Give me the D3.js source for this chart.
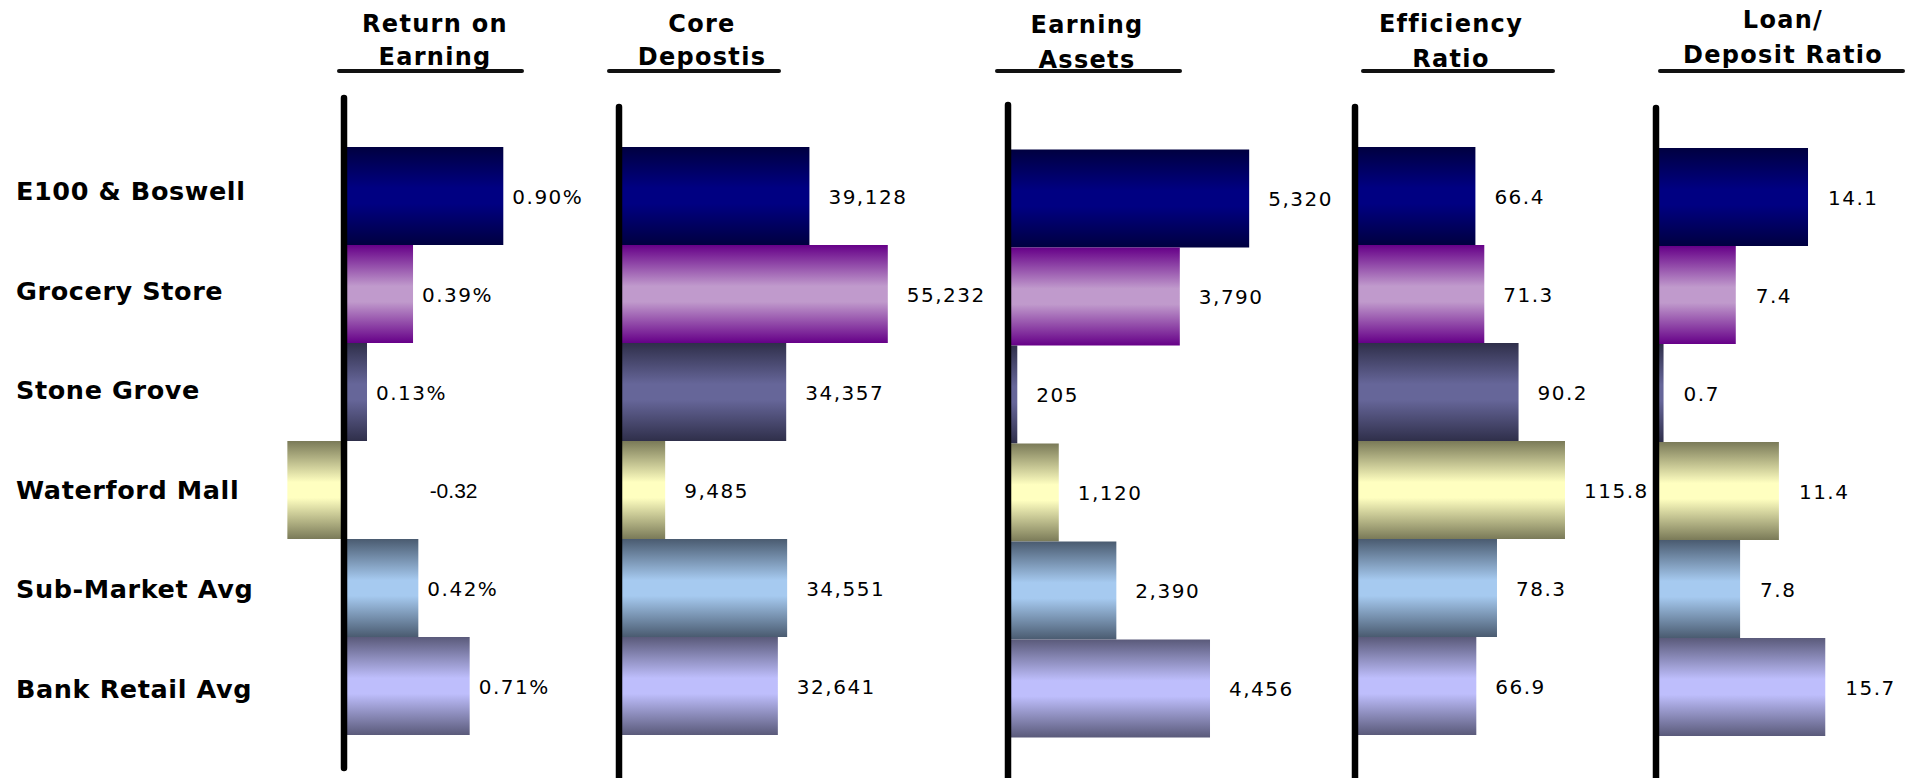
<!DOCTYPE html>
<html>
<head>
<meta charset="utf-8">
<script src="https://cdn.jsdelivr.net/npm/d3@7"></script>
<style>
  html, body { margin: 0; padding: 0; background: #fff; }
  svg { display: block; }
</style>
</head>
<body>
<div id="chart"></div>
<script>
// data
const categories = ["E100 & Boswell", "Grocery Store", "Stone Grove", "Waterford Mall", "Sub-Market Avg", "Bank Retail Avg"];
const returnOnEarning = [0.90, 0.39, 0.13, -0.32, 0.42, 0.71];
const coreDeposits = [39128, 55232, 34357, 9485, 34551, 32641];
const earningAssets = [5320, 3790, 205, 1120, 2390, 4456];
const efficiencyRatio = [66.4, 71.3, 90.2, 115.8, 78.3, 66.9];
const loanDepositRatio = [14.1, 7.4, 0.7, 11.4, 7.8, 15.7];
const panelTitles = [
  ["Return on", "Earning"],
  ["Core", "Depostis"],
  ["Earning", "Assets"],
  ["Efficiency", "Ratio"],
  ["Loan/", "Deposit Ratio"]
];

// bar fills: edge colour, centre colour
const edgeColors = ["#000040", "#660088", "#2f2f4a", "#7a7a58", "#4a5b70", "#5a5a7a"];
const centerColors = ["#000082", "#c09acc", "#666699", "#ffffc0", "#a6caf0", "#bebefc"];

const width = 1913;
const height = 778;

const pct = v => v < 0 ? v.toFixed(2) : v.toFixed(2) + "%";
const comma = d3.format(",");
const one = d3.format(".1f");

// layout for each panel
const panels = [
  { values: returnOnEarning, fmt: pct, axisX: 344, dMax: 1, w: 177, top: 147, cx: 435, ul: [339, 522], ty: [32, 65], aTop: 98, aBot: 768, gap: 9 },
  { values: coreDeposits, fmt: comma, axisX: 619, dMax: 60000, w: 292, top: 147, cx: 702, ul: [609, 779], ty: [32, 65], aTop: 107, aBot: 800, gap: 19 },
  { values: earningAssets, fmt: comma, axisX: 1008, dMax: 6000, w: 272, top: 149.5, cx: 1087, ul: [997, 1180], ty: [33, 68], aTop: 105, aBot: 778, gap: 19 },
  { values: efficiencyRatio, fmt: one, axisX: 1355, dMax: 120, w: 217.6, top: 147, cx: 1451, ul: [1363, 1553], ty: [32, 67], aTop: 107, aBot: 800, gap: 19 },
  { values: loanDepositRatio, fmt: one, axisX: 1656, dMax: 16, w: 172.5, top: 148, cx: 1783, ul: [1660, 1903], ty: [28, 63], aTop: 108, aBot: 800, gap: 20 }
];

const svg = d3.select("#chart").append("svg")
  .attr("width", width)
  .attr("height", height);

// gradients
const defs = svg.append("defs");
categories.forEach((c, i) => {
  const g = defs.append("linearGradient")
    .attr("id", "grad" + i)
    .attr("x1", 0).attr("y1", 0).attr("x2", 0).attr("y2", 1);
  g.append("stop").attr("offset", "0%").attr("stop-color", edgeColors[i]);
  g.append("stop").attr("offset", "42%").attr("stop-color", centerColors[i]);
  g.append("stop").attr("offset", "58%").attr("stop-color", centerColors[i]);
  g.append("stop").attr("offset", "100%").attr("stop-color", edgeColors[i]);
});

// category labels
const labelY = d3.scalePoint().domain(categories).range([200, 698]);
svg.append("g")
  .selectAll("text")
  .data(categories)
  .join("text")
  .attr("x", 16)
  .attr("y", d => labelY(d))
  .style("font-family", "'DejaVu Sans', Verdana, sans-serif")
  .style("font-weight", "bold")
  .style("font-size", "25.5px")
  .style("letter-spacing", "0.6px")
  .attr("fill", "#000")
  .text(d => d);

panels.forEach((p, pi) => {
  const g = svg.append("g").attr("class", "panel panel-" + pi);

  const x = d3.scaleLinear().domain([0, p.dMax]).range([p.axisX, p.axisX + p.w]);
  const y = d3.scaleBand().domain(categories).range([p.top, p.top + 98 * categories.length]).padding(0);

  const rows = categories.map((c, i) => ({ cat: c, value: p.values[i], i: i }));

  // bars
  g.selectAll("rect")
    .data(rows)
    .join("rect")
    .attr("x", d => Math.min(x(0), x(d.value)))
    .attr("y", d => y(d.cat))
    .attr("width", d => Math.abs(x(d.value) - x(0)))
    .attr("height", y.bandwidth())
    .attr("fill", d => "url(#grad" + d.i + ")");

  // value labels
  g.selectAll("text.val")
    .data(rows)
    .join("text")
    .attr("class", "val")
    .attr("x", d => d.value < 0 ? x(Math.abs(d.value)) + 29 : x(d.value) + p.gap)
    .attr("y", d => y(d.cat) + y.bandwidth() / 2 + 7.5)
    .style("font-family", d => d.value < 0 ? "'Liberation Sans', Arial, sans-serif" : "'DejaVu Sans', Verdana, sans-serif")
    .style("font-size", d => d.value < 0 ? "21px" : "20px")
    .style("letter-spacing", d => d.value < 0 ? "0px" : "1.5px")
    .attr("fill", "#000")
    .text(d => p.fmt(d.value));

  // vertical axis line
  g.append("line")
    .attr("x1", x(0)).attr("x2", x(0))
    .attr("y1", p.aTop).attr("y2", p.aBot)
    .attr("stroke", "#000")
    .attr("stroke-width", 6.5)
    .attr("stroke-linecap", "round");

  // title
  const t = g.append("text")
    .attr("text-anchor", "middle")
    .style("font-family", "'DejaVu Sans', Verdana, sans-serif")
    .style("font-weight", "bold")
    .style("font-size", "24px")
    .style("letter-spacing", "1.3px")
    .attr("fill", "#000");
  panelTitles[pi].forEach((line, li) => {
    t.append("tspan")
      .attr("x", p.cx)
      .attr("y", p.ty[li])
      .text(line);
  });

  g.append("line")
    .attr("x1", p.ul[0]).attr("x2", p.ul[1])
    .attr("y1", 71).attr("y2", 71)
    .attr("stroke", "#111")
    .attr("stroke-width", 4)
    .attr("stroke-linecap", "round");
});
</script>
</body>
</html>
